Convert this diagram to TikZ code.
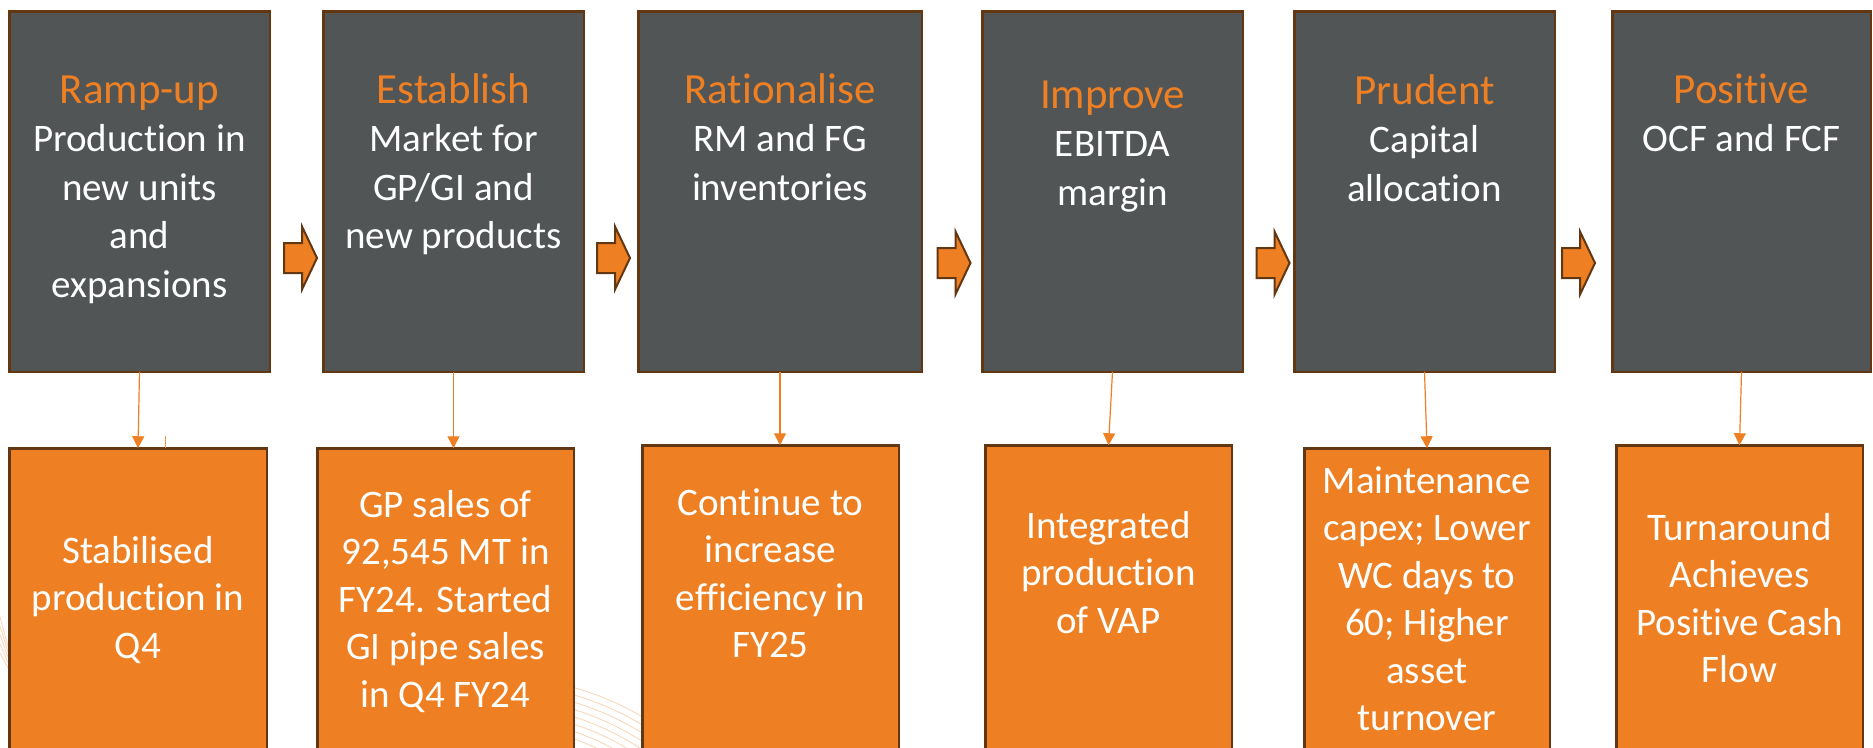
\documentclass[tikz,border=0pt]{standalone}
\usepackage{fontspec}
\setmainfont{Carlito}[Ligatures=NoCommon]
\usetikzlibrary{positioning,arrows.meta}

\definecolor{slate}{RGB}{81,85,86}
\definecolor{rust}{RGB}{99,55,18}
\definecolor{amber}{RGB}{238,128,35}
\definecolor{peach}{RGB}{246,196,150}

\newcommand\stagetitle[1]{{\fontsize{43}{48.5}\selectfont\color{amber}\strut#1}}
\newcommand\steparrow[1]{\draw[flow] (#1) ++(-16.5,-15) -- ++(18,0) -- ++(0,-16.5)
    -- ++(15,31.5) -- ++(-15,31.5) -- ++(0,-16.5) -- ++(-18,0) -- cycle;}

\begin{document}
\begin{tikzpicture}[x=1pt, y=-1pt,
    stage/.style = {draw=rust, line width=2.5pt, fill=slate, outer sep=0pt,
        minimum width=#1, minimum height=360.5pt},
    result/.style = {draw=rust, line width=2.5pt, fill=amber, outer sep=0pt,
        anchor=north, minimum width=#1, minimum height=400pt},
    headline/.style = {text=white, align=center, inner sep=0pt,
        font=\fontsize{39}{48.5}\selectfont},
    outcome/.style = {headline, font=\fontsize{39}{47.5}\selectfont},
    link/.style = {draw=amber, line width=1.2pt, -{Triangle[width=12pt,length=12pt]}},
    flow/.style = {draw=rust, line width=2pt, fill=amber},
    swirl/.style = {draw=peach, line width=0.8pt, opacity=0.7}]
\useasboundingbox (0,0) rectangle (1873,747);
\clip (0,0) rectangle (1873,747);
\fill[white] (0,0) rectangle (1873,747);

% faint swirl behind the lower boxes
\begin{scope}
  \clip (500,447) rectangle (700,747);
  \foreach \r in {252,259,...,301}
    \draw[swirl] (491,977) circle[radius=\r];
\end{scope}
\foreach \y in {617,626,635,644,653}
  \draw[swirl] (0,\y) -- (20,690);

% top row
\node[stage=260.5pt] (t1) at (139.5,191.5) {};
\node[stage=260.5pt] (t2) at (453.5,191.5) {};
\node[stage=283.5pt] (t3) at (780,191.5) {};
\node[stage=260.5pt] (t4) at (1112.5,191.5) {};
\node[stage=260.5pt] (t5) at (1424.5,191.5) {};
\node[stage=258.5pt] (t6) at (1741.5,191.5) {};

\node[headline, below=57.8pt of t1.north] (h1) {\stagetitle{Ramp-up}\\Production in\\new units\\and\\expansions};
\node[headline, below=57.8pt of t2.north] (h2) {\stagetitle{Establish}\\Market for\\GP/GI and\\new products};
\node[headline, below=57.8pt of t3.north] (h3) {\stagetitle{Rationalise}\\RM and FG\\inventories};
\node[headline, below=62.8pt of t4.north] (h4) {\stagetitle{Improve}\\EBITDA\\margin};
\node[headline, below=58.8pt of t5.north] (h5) {\stagetitle{Prudent}\\Capital\\allocation};
\node[headline, below=57.8pt of t6.north] (h6) {\stagetitle{Positive}\\OCF and FCF};

% bottom row
\node[result=257.5pt] (b1) at (138,448.25) {};
\node[result=256.5pt] (b2) at (445.5,448.25) {};
\node[result=256.5pt] (b3) at (770.5,445.25) {};
\node[result=246.5pt] (b4) at (1108.5,445.25) {};
\node[result=245.5pt] (b5) at (1427,448.25) {};
\node[result=246.5pt] (b6) at (1739.5,445.25) {};

\node[outcome, below=81.5pt of b1.north] (n1) {\strut Stabilised\\production in\\Q4};
\node[outcome, below=35.5pt of b2.north] (n2) {\strut GP sales of\\92,545 MT in\\FY24. Started\\GI pipe sales\\in Q4 FY24};
\node[outcome, below=36.5pt of b3.north] (n3) {\strut Continue to\\increase\\efficiency in\\FY25};
\node[outcome, below=59.5pt of b4.north] (n4) {\strut Integrated\\production\\of VAP};
\node[outcome, below=11.5pt of b5.north] (n5) {\strut Maintenance\\capex; Lower\\WC days to\\60; Higher\\asset\\turnover};
\node[outcome, below=61.5pt of b6.north] (n6) {\strut Turnaround\\Achieves\\Positive Cash\\Flow};

% block arrows between the stages
\coordinate (a1) at (300.5,258);
\coordinate (a2) at (613.5,258);
\coordinate (a3) at (954,263);
\coordinate (a4) at (1273,263);
\coordinate (a5) at (1578.5,263);
\steparrow{a1}
\steparrow{a2}
\steparrow{a3}
\steparrow{a4}
\steparrow{a5}

% stage -> outcome
\draw[link] (t1.south) -- (b1.north);
\draw[link] (t2.south) -- (t2.south |- b2.north);
\draw[link] (t3.south) -- (t3.south |- b3.north);
\draw[link] (t4.south) -- (b4.north);
\draw[link] (t5.south) -- (b5.north);
\draw[link] (t6.south) -- (b6.north);
\draw[amber!85, line width=1pt] ([xshift=27.7pt]b1.north) -- ++(0,-12);
\end{tikzpicture}
\end{document}
